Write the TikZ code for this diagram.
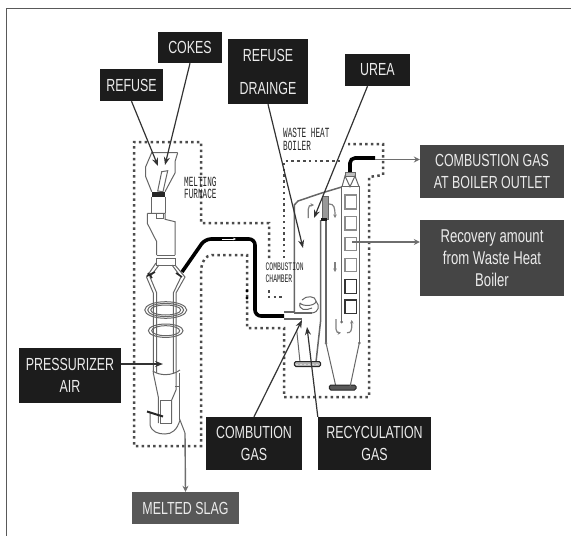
\documentclass[tikz,border=0pt]{standalone}
\usepackage{fontspec}
\setmainfont[FakeStretch=0.71]{Liberation Sans}
\newfontfamily\tagfont[FakeStretch=0.55]{Liberation Mono}
\usetikzlibrary{calc,arrows.meta,positioning}
\definecolor{boxblack}{HTML}{1C1C1C}
\definecolor{boxgrey}{HTML}{454545}
\definecolor{slaggrey}{HTML}{585858}
\definecolor{linegrey}{HTML}{6E6E6E}
\tikzset{
  labelbox/.style={fill=boxblack, text=white!92!black, align=center, inner sep=0pt,
    font=\fontsize{17.5}{22}\selectfont},
  greybox/.style={labelbox, fill=boxgrey},
  tagtext/.style={anchor=north west, align=left, inner sep=0pt, text=black!85,
    font=\tagfont\fontsize{14}{12.5}\selectfont},
  leader/.style={draw=black!80, line width=1.2pt, -{Stealth[length=8pt,width=6pt]}},
  outleader/.style={draw=linegrey, line width=1.4pt, -{Stealth[length=6pt,width=6pt]}},
  bound/.style={draw=black!70, line width=2.5pt, dash pattern=on 2.5pt off 3.3pt},
  wall/.style={draw=black!60, line width=1pt},
  wallheavy/.style={draw=black!60, line width=1.5pt},
  flow/.style={draw=black!50, line width=1.2pt, -{Stealth[length=3.5pt,width=3.5pt]}},
  pipe/.style={draw=black, line width=3.6pt},
  hatch/.style={draw=black!85, fill=black!30, line width=1pt, rounded corners=1.5pt},
  hatchmark/.style={draw=white!85!black, line width=0.8pt, dash pattern=on 2pt off 2pt}
}
\begin{document}
\begin{tikzpicture}[x=1pt,y=-1pt]
    \useasboundingbox (0,0) rectangle (571,536);
    % frame
    \draw[draw=black!65, line width=1.5pt] (6.5,536) -- (6.5,8.5) -- (571,8.5);

    % dotted boundaries
    \draw[bound] (269,258) -- (269,223) -- (201,223) -- (201,142) -- (134,142) -- (134,446) -- (201,446) -- (201,272)
        .. controls (201,262) and (206,255) .. (212,255) -- (247,255) -- (247,328) -- (284,328) -- (284,397) -- (369,397) -- (369,177) -- (383,175) -- (383,144) -- (348,144);
    \draw[bound] (284,258) -- (284,161) -- (340,161);
    \draw[bound] (269,290) -- (269,297) -- (285,297);
    \fill[black] (247,291) circle (1.7pt) (247,298) circle (1.7pt);

    % melting furnace, upper part
    \draw[wall] (177.7,152.7) -- (151.7,152.7) -- (145.7,166.7) -- (145.7,176.7) -- (151.7,191.7);
    \draw[wall] (177.7,152.7) -- (175,161.7) -- (175,173) -- (165,191.7);
    \draw[wall] (161.7,171.7) -- (167.7,170.7) -- (163,191.7) -- (157.7,191) -- cycle;
    \fill[black!85] (151.7,192.3) rectangle (165,196.7);
    \draw[wall] (151.7,196.7) -- (151.7,213.3) (165,196.7) -- (165,213.3);
    \draw[wall] (156.7,213.3) -- (156.7,218) -- (163,218) -- (163,213.3);
    \draw[wall] (147.3,213.3) -- (165,213.3) -- (165,219.3) -- (175,221.7) -- (175,255);
    \draw[wall] (147.3,213.3) -- (147.3,223.3) -- (156.7,241.7) -- (156.7,255);
    \draw[wall] (156.7,255) -- (175,255) (156.7,258) -- (175,258);
    \draw[wall] (156.7,258) -- (156.7,265) (175,258) -- (175,265);
    \draw[wall] (156,265) -- (175,265);

    % melting furnace, shoulders and tube
    \draw[wall] (156,263) -- (146.5,277) -- (153.3,293) -- (153.3,373);
    \draw[wall] (159,265) -- (150,277) -- (156.7,293) -- (156.7,373);
    \draw[wall] (175,265) -- (185,277) -- (176,293) -- (176,373);
    \draw[wall] (172,265) -- (181,277) -- (173.3,293) -- (173.3,373);
    \foreach \r/\s in {21/8.3,18/6.6,15/5}{\draw[wall] (165.7,310) ellipse ({\r} and {\s});}
    \foreach \r/\s in {17.3/6.7,14/5}{\draw[wall] (165.7,330.7) ellipse ({\r} and {\s});}
    \draw[wall] (152.7,371) .. controls (160,376) and (172,376) .. (180,370);
    \draw[wall] (153.3,373) -- (158.3,397) -- (158.3,423) (176,373) -- (176,390) -- (171.7,400) -- (171.7,423);
    \draw[wall] (160,400) -- (171.7,400) (160,400) -- (160,423) -- (171.7,423);
    \draw[wall] (179.3,373) -- (179.3,420);
    \draw[wall] (175,386) -- (180,386);
    \draw[wall] (150,413) -- (150,425) .. controls (152,432) and (158,434) .. (165,434) .. controls (172,434) and (177,430) .. (180,420) -- (185,433);
    \draw[hatch, line width=2pt] (147,411.5) -- (163,416.5);
    \draw[hatch, line width=1.6pt] (147,276) -- (155,272) (148,273) -- (152,278);
    \draw[hatch, line width=1.6pt] (176,273) -- (182,277);

    % thick pipes
    \draw[pipe, rounded corners=6pt] (182,272) -- (205,239) -- (255,239) -- (255,316) -- (284,316);
    \draw[white, line width=1pt, -{Stealth[length=3pt,width=2.5pt]}] (222,239) -- (236,239);
    \draw[pipe, rounded corners=5pt] (350,173) -- (350,158) -- (375,158);

    % combustion chamber
    \draw[wallheavy] (294.3,312) -- (294.3,205) -- (298,201) -- (321.7,193) -- (341.7,187);
    \draw[wallheavy] (284,312) -- (294.3,312) (284,319) -- (302,319) (294,313) -- (312,313);
    \draw[wall] (302,300) .. controls (306,295) and (316,296) .. (316,301) .. controls (316,306) and (303,307) .. (300,303)
        (300,303) .. controls (298,310) and (306,311) .. (312,308) (316,301) .. controls (320,306) and (319,312) .. (312,313);
    \draw[wall] (296.7,330) -- (300,362);
    \draw[wallheavy] (320.7,220) -- (320.7,320) -- (316,362);
    \draw[wallheavy] (326,220) -- (326,343);
    \draw[wall] (326,343) -- (336,387);
    \draw[fill=black!40, draw=black!60] (322,196) rectangle (328,219);
    \fill[black!90] (321,218) rectangle (327,221);
    \draw[hatch] (294.3,361.5) rectangle (320.7,366.5);
    \draw[hatchmark] (296,364) -- (319,364);
    \draw[hatch, fill=black!65] (329.3,385) rectangle (356,390);
    \draw[wall] (359.3,343) -- (350,387);
    \fill[black!55] (326,343) circle (1.5pt) (359.3,343) circle (1.5pt) (341.7,322) circle (1.5pt);

    % boiler column
    \draw[wallheavy] (341.7,322) -- (341.7,186.7) -- (359.3,186.7) -- (359.3,343);
    \draw[wall, fill=black!25] (345,172.7) rectangle (355,176);
    \draw[wall] (342,186.7) -- (345,176) -- (350,186.7) -- (355,176) -- (359,186.7);
    \foreach \top/\bot/\shade in {195/209/45,216.7/230/45,237.7/250.7/45,258.3/271.7/45,279.3/293.3/80,300/313.3/80}{
        \draw[draw=black!\shade, line width=1.1pt] (345,\top) rectangle (356.7,\bot);
    }

    % gas flow marks
    \draw[flow] (308.3,218) -- (308.3,209) .. controls (308.3,206) and (310,205) .. (314,205);
    \draw[flow] (329,204) .. controls (334,204) and (335,207) .. (335,218);
    \draw[flow] (335,262) -- (335,272);
    \draw[flow] (336,319) -- (336,329) .. controls (336,332) and (338,333) .. (341,332.7);
    \draw[flow] (347,332.7) .. controls (351,333) and (352,331) .. (351.7,320);

    % text tags on the plant
    \node[tagtext] (tagfurnace) at (184,176.5) {MELTING\\FURNACE};
    \node[tagtext] (tagboiler) at (283,128) {WASTE HEAT\\BOILER};
    \node[tagtext, font=\tagfont\fontsize{11.5}{12}\selectfont] (tagchamber) at (265.5,262.5) {COMBUSTION\\CHAMBER};

    % label boxes
    \node[labelbox, minimum width=63pt, minimum height=32pt] (refuse) at (131.5,85) {REFUSE};
    \node[labelbox, minimum width=64pt, minimum height=31pt] (cokes) at (190,47.5) {COKES};
    \node[labelbox, minimum width=80pt, minimum height=65pt, font=\fontsize{17.5}{33}\selectfont] (drainge) at (268,71.5) {REFUSE\\DRAINGE};
    \node[labelbox, minimum width=65pt, minimum height=32pt] (urea) at (377.5,70) {UREA};
    \node[labelbox, minimum width=102pt, minimum height=55pt] (pressurizer) at (70,375.5) {PRESSURIZER\\AIR};
    \node[labelbox, minimum width=96pt, minimum height=53pt] (combution) at (254,443.5) {COMBUTION\\GAS};
    \node[labelbox, minimum width=113pt, minimum height=53pt] (recyc) at (374.5,443.5) {RECYCULATION\\GAS};
    \node[greybox, minimum width=144pt, minimum height=53pt] (gasout) at (492,171.5) {COMBUSTION GAS\\AT BOILER OUTLET};
    \node[greybox, minimum width=144pt, minimum height=76pt, font=\fontsize{18.5}{22}\selectfont] (recovery) at (492,258) {Recovery amount\\from Waste Heat\\Boiler};
    \node[greybox, fill=slaggrey, minimum width=107pt, minimum height=32pt] (slag) at (185.5,508) {MELTED SLAG};

    % arrow ends inside the plant
    \coordinate (hopperleft) at (158,166);
    \coordinate (hopperright) at (165,165);
    \coordinate (chamberin) at (303,248);
    \coordinate (ureain) at (314,218);
    \coordinate (airin) at (163,364);
    \coordinate (burnerin) at (302,320);
    \coordinate (recycin) at (307,327);
    \coordinate (slagout) at (185,433);
    \coordinate (flueout) at (375,159.5);
    \coordinate (heatout) at (352,242);

    \draw[leader] (refuse.south) -- (hopperleft);
    \draw[leader] (cokes.south) -- (hopperright);
    \draw[leader] (drainge.south) -- (chamberin);
    \draw[leader] ([xshift=-10pt]urea.south) -- (ureain);
    \draw[leader] (pressurizer.east |- airin) -- (airin);
    \draw[leader] (combution.north) -- (burnerin);
    \draw[leader] (recyc.north west) -- (recycin);
    \draw[outleader] (slagout) -- (slag.north);
    \draw[outleader] (flueout) -- (flueout -| gasout.west);
    \draw[outleader] (heatout) -- (heatout -| recovery.west);
\end{tikzpicture}
\end{document}
